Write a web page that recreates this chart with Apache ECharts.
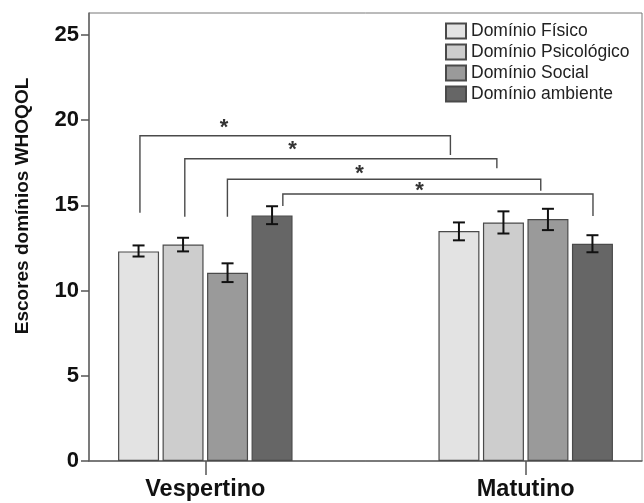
<!DOCTYPE html>
<html><head><meta charset="utf-8">
<script src="https://cdn.jsdelivr.net/npm/echarts@6/dist/echarts.min.js"></script>
<style>html,body{margin:0;padding:0;background:#fff}#c{width:644px;height:503px}</style>
</head><body><div id="c"></div>
<script>
// ---- data ----
const categories = ['Vespertino', 'Matutino'];
const seriesNames = ['Domínio Físico', 'Domínio Psicológico', 'Domínio Social', 'Domínio ambiente'];
const fisico = [12.3, 13.5];
const psicologico = [12.7, 14.0];
const social = [11.05, 14.2];
const ambiente = [14.4, 12.75];
const fisicoErr = [[12.0, 12.65], [12.95, 14.0]];
const psicologicoErr = [[12.3, 13.1], [13.35, 14.65]];
const socialErr = [[10.5, 11.6], [13.55, 14.8]];
const ambienteErr = [[13.9, 14.95], [12.25, 13.25]];
const yTicks = [0, 5, 10, 15, 20, 25];
const yMax = 26.29;
// significance brackets (axis units)
const bracketLeftX = [-0.204, -0.064, 0.069, 0.242];
const bracketRightX = [0.765, 0.910, 1.047, 1.210];
const bracketTopY = [19.09, 17.74, 16.53, 15.67];
const bracketLeftEndY = [14.57, 14.34, 14.34, 14.96];
const bracketRightEndY = [17.96, 17.18, 15.86, 14.38];
const starX = [0.0587, 0.272, 0.481, 0.669];
const starY = [19.78, 18.49, 17.08, 16.1];
const starLabel = ['*', '*', '*', '*'];

// ---- style ----
const colors = ['#e3e3e3', '#cdcdcd', '#9a9a9a', '#666666'];
const FONT = '"Liberation Sans", Arial, sans-serif';
const BAR_W = 41, BAR_GAP = 3.5;

const values = [fisico, psicologico, social, ambiente];
const errs = [fisicoErr, psicologicoErr, socialErr, ambienteErr];

const barSeries = values.map((vals, s) => ({
  name: seriesNames[s],
  type: 'bar',
  barWidth: BAR_W,
  barGap: (BAR_GAP / BAR_W * 100) + '%',
  data: vals.map((v, i) => [i, v]),
  itemStyle: { color: colors[s], borderColor: '#4a4a4a', borderWidth: 1.2 },
  z: 2
}));

const errData = [];
errs.forEach((e, s) => e.forEach((pair, i) => errData.push([i, pair[0], pair[1], s])));

const errSeries = {
  type: 'custom',
  data: errData,
  z: 5,
  silent: true,
  renderItem: function (params, api) {
    const x = api.value(0), lo = api.value(1), hi = api.value(2), s = api.value(3);
    const off = (s - 1.5) * (BAR_W + BAR_GAP);
    const p1 = api.coord([x, lo]), p2 = api.coord([x, hi]);
    const cx = p1[0] + off, hw = 6;
    const st = { stroke: '#111', lineWidth: 2 };
    return { type: 'group', children: [
      { type: 'line', shape: { x1: cx, y1: p1[1], x2: cx, y2: p2[1] }, style: st },
      { type: 'line', shape: { x1: cx - hw, y1: p1[1], x2: cx + hw, y2: p1[1] }, style: st },
      { type: 'line', shape: { x1: cx - hw, y1: p2[1], x2: cx + hw, y2: p2[1] }, style: st }
    ]};
  }
};

const bracketData = bracketLeftX.map((lx, k) => [lx, bracketRightX[k], bracketTopY[k], bracketLeftEndY[k], bracketRightEndY[k]]);
const bracketSeries = {
  type: 'custom',
  data: bracketData,
  z: 4,
  silent: true,
  renderItem: function (params, api) {
    const a = api.coord([api.value(0), api.value(3)]);
    const b = api.coord([api.value(0), api.value(2)]);
    const c = api.coord([api.value(1), api.value(2)]);
    const d = api.coord([api.value(1), api.value(4)]);
    return { type: 'polyline', shape: { points: [a, b, c, d] },
      style: { stroke: '#4a4a4a', lineWidth: 1.4, fill: null } };
  }
};

const starSeries = {
  type: 'custom',
  data: starX.map((x, k) => [x, starY[k], k]),
  z: 6,
  silent: true,
  renderItem: function (params, api) {
    const p = api.coord([api.value(0), api.value(1)]);
    return { type: 'text', x: p[0], y: p[1] + 4,
      style: { text: starLabel[api.value(2)], font: 'bold 22px ' + FONT, fill: '#333',
        align: 'center', verticalAlign: 'middle' } };
  }
};

const chart = echarts.init(document.getElementById('c'), null, { renderer: 'canvas' });
chart.setOption({
  animation: false,
  backgroundColor: '#fff',
  grid: { left: 89, right: 2, top: 13, bottom: 42, show: true, borderColor: '#777', borderWidth: 1, backgroundColor: 'transparent' },
  legend: {
    data: seriesNames,
    orient: 'vertical',
    left: 445, top: 22,
    itemWidth: 20, itemHeight: 15, itemGap: 3,
    padding: 0,
    icon: 'rect',
    textStyle: { fontSize: 17.5, lineHeight: 17, color: '#222', fontFamily: FONT }
  },
  xAxis: {
    type: 'value', min: -0.363, max: 1.363,
    axisLine: { show: true, onZero: false, lineStyle: { color: '#666', width: 1.5 } },
    axisTick: { show: true, length: 14, customValues: [0, 1], lineStyle: { color: '#555', width: 1.5 } },
    axisLabel: { customValues: [0, 1], formatter: v => categories[Math.round(v)] || '',
      fontSize: 23.5, fontWeight: 'bold', color: '#111', fontFamily: FONT, margin: 17 },
    splitLine: { show: false }
  },
  yAxis: {
    type: 'value', min: 0, max: yMax,
    axisLine: { show: true, onZero: false, lineStyle: { color: '#666', width: 1.5 } },
    axisTick: { show: true, length: 8, customValues: yTicks, lineStyle: { color: '#555', width: 1.5 } },
    axisLabel: { customValues: yTicks, fontSize: 22, fontWeight: 'bold', color: '#111', fontFamily: FONT, margin: 10 },
    splitLine: { show: false }
  },
  graphic: [{
    type: 'text', x: 23, y: 206, rotation: Math.PI / 2,
    style: { text: 'Escores domínios WHOQOL', font: 'bold 19px ' + FONT, fill: '#111', align: 'center', verticalAlign: 'middle' }
  }],
  series: barSeries.concat([bracketSeries, errSeries, starSeries])
});
</script>
</body></html>
